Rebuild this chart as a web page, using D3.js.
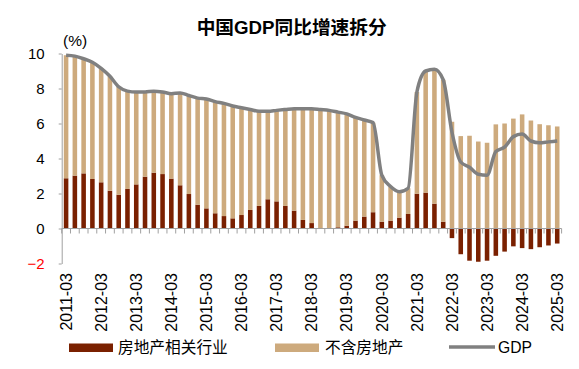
<!DOCTYPE html>
<html>
<head>
<meta charset="utf-8">
<script src="https://cdn.jsdelivr.net/npm/d3@7"></script>
<style>
  body { margin: 0; background: #fff; }
  text { font-family: "Liberation Sans", Arial, "Noto Sans CJK SC", sans-serif; }
</style>
</head>
<body>
<div id="chart"></div>
<script>
// quarters 2011-03 .. 2025-03
var quarters = [
  "2011-03", "2011-06", "2011-09", "2011-12", "2012-03", "2012-06", "2012-09", "2012-12",
  "2013-03", "2013-06", "2013-09", "2013-12", "2014-03", "2014-06", "2014-09", "2014-12",
  "2015-03", "2015-06", "2015-09", "2015-12", "2016-03", "2016-06", "2016-09", "2016-12",
  "2017-03", "2017-06", "2017-09", "2017-12", "2018-03", "2018-06", "2018-09", "2018-12",
  "2019-03", "2019-06", "2019-09", "2019-12", "2020-03", "2020-06", "2020-09", "2020-12",
  "2021-03", "2021-06", "2021-09", "2021-12", "2022-03", "2022-06", "2022-09", "2022-12",
  "2023-03", "2023-06", "2023-09", "2023-12", "2024-03", "2024-06", "2024-09", "2024-12",
  "2025-03"
];

// 房地产相关行业 (pp)
var realEstate = [
  2.87, 3.02, 3.15, 2.83, 2.64, 2.16, 1.93, 2.26,
  2.52, 2.96, 3.19, 3.11, 2.85, 2.47, 1.97, 1.36,
  1.15, 0.87, 0.71, 0.58, 0.77, 1.06, 1.29, 1.67,
  1.55, 1.29, 1.02, 0.49, 0.31, 0.0, 0.0, 0.07,
  0.16, 0.45, 0.68, 0.93, 0.39, 0.45, 0.62, 0.83,
  1.99, 2.05, 1.42, 0.39, -0.55, -1.47, -1.84, -1.9,
  -1.84, -1.56, -1.32, -1.02, -1.12, -1.18, -1.07, -0.97,
  -0.86
];

// 不含房地产 (pp)
var nonRealEstate = [
  7.03, 6.83, 6.55, 6.67, 6.51, 6.54, 6.17, 5.59,
  5.28, 4.84, 4.66, 4.69, 4.85, 5.28, 5.63, 6.09,
  6.25, 6.38, 6.44, 6.42, 6.13, 5.74, 5.41, 5.03,
  5.2, 5.51, 5.83, 6.36, 6.54, 6.8, 6.75, 6.58,
  6.39, 5.9, 5.52, 5.12, 2.66, 1.95, 1.48, 1.47,
  5.81, 6.95, 7.68, 8.11, 6.1, 5.28, 5.3, 4.97,
  4.9, 5.95, 6.0, 6.28, 6.52, 6.17, 5.96, 5.9,
  5.83
];

// GDP yoy (%)
var gdp = [
  9.9, 9.85, 9.7, 9.5, 9.15, 8.7, 8.1, 7.85,
  7.8, 7.8, 7.85, 7.8, 7.7, 7.75, 7.6, 7.45,
  7.4, 7.25, 7.15, 7.0, 6.9, 6.8, 6.7, 6.7,
  6.75, 6.8, 6.85, 6.85, 6.85, 6.8, 6.75, 6.65,
  6.55, 6.35, 6.2, 6.05, 3.05, 2.4, 2.1, 2.3,
  7.8, 9.0, 9.1, 8.5, 5.5, 3.8, 3.5, 3.1,
  3.05, 4.4, 4.65, 5.25, 5.4, 5.0, 4.9, 4.95,
  5.0
];

var tickLabels = ["2011-03", "2012-03", "2013-03", "2014-03", "2015-03", "2016-03", "2017-03",
  "2018-03", "2019-03", "2020-03", "2021-03", "2022-03", "2023-03", "2024-03", "2025-03"];
var yTicks = [-2, 0, 2, 4, 6, 8, 10];

var darkColor = "#7a2000";
var tanColor = "#cdaa7d";
var lineColor = "#808080";
var axisColor = "#a0a0a0";

function drawChart() {
  var width = 579, height = 369;

  var svg = d3.select("#chart")
    .append("svg")
    .attr("width", width)
    .attr("height", height);

  var x = d3.scaleBand()
    .domain(quarters)
    .range([61.7, 561.6]);

  var y = d3.scaleLinear()
    .domain([-2, 10])
    .range([263.5, 53.5]);

  var bw = x.bandwidth();
  var barW = bw * 0.52;

  // table for the stack
  var rows = quarters.map(function(q, i) {
    return { quarter: q, re: realEstate[i], nonre: nonRealEstate[i] };
  });

  var series = d3.stack()
    .keys(["re", "nonre"])
    .offset(d3.stackOffsetDiverging)(rows);

  var colors = { re: darkColor, nonre: tanColor };

  svg.append("g")
    .selectAll("g")
    .data(series)
    .enter()
    .append("g")
    .attr("fill", function(s) { return colors[s.key] })
    .selectAll("rect")
    .data(function(s) { return s })
    .enter()
    .append("rect")
    .attr("x", function(d) { return x(d.data.quarter) + (bw - barW) / 2 })
    .attr("width", barW)
    .attr("y", function(d) { return y(Math.max(d[0], d[1])) })
    .attr("height", function(d) { return Math.abs(y(d[0]) - y(d[1])) });

  // y axis
  var yAxis = svg.append("g")
    .attr("transform", "translate(61.7,0)")
    .call(d3.axisLeft(y).tickValues(yTicks).tickSize(3).tickSizeOuter(0).tickPadding(14));
  yAxis.select(".domain").attr("stroke", axisColor);
  yAxis.selectAll(".tick line").attr("stroke", axisColor);
  yAxis.selectAll(".tick text")
    .style("font-size", "15px")
    .attr("fill", function(d) { return d < 0 ? "#ff0000" : "#000" });

  // x axis along zero, ticks between bars
  var y0 = y(0);
  svg.append("line")
    .attr("x1", x.range()[0]).attr("x2", x.range()[1])
    .attr("y1", y0).attr("y2", y0)
    .attr("stroke", axisColor);

  var bounds = quarters.map(function(q) { return x(q) }).concat([x.range()[1]]);
  svg.append("g")
    .selectAll("line")
    .data(bounds)
    .enter()
    .append("line")
    .attr("x1", function(d) { return d }).attr("x2", function(d) { return d })
    .attr("y1", y0).attr("y2", y0 + 5)
    .attr("stroke", axisColor);

  // x labels, rotated
  svg.append("g")
    .selectAll("text")
    .data(tickLabels)
    .enter()
    .append("text")
    .attr("transform", function(d) {
      return "translate(" + (x(d) + bw / 2) + ",273) rotate(-90)";
    })
    .attr("text-anchor", "end")
    .attr("dy", "0.36em")
    .style("font-size", "16px")
    .text(function(d) { return d });

  // GDP line
  var line = d3.line()
    .x(function(d, i) { return x(quarters[i]) + bw / 2 })
    .y(function(d) { return y(d) })
    .curve(d3.curveMonotoneX);

  svg.append("path")
    .datum(gdp)
    .attr("d", line)
    .attr("fill", "none")
    .attr("stroke", lineColor)
    .attr("stroke-width", 3.5)
    .attr("stroke-linejoin", "round");

  // unit
  svg.append("text")
    .attr("x", 63).attr("y", 46)
    .style("font-size", "15.5px")
    .text("(%)");

  // title
  svg.append("text")
    .attr("x", 291.7).attr("y", 34)
    .attr("text-anchor", "middle")
    .style("font-size", "18.7px")
    .style("font-weight", "bold")
    .text("中国GDP同比增速拆分");

  // legend
  var lg = svg.append("g");
  lg.append("rect").attr("x", 69).attr("y", 343.5).attr("width", 44).attr("height", 8.5).attr("fill", darkColor);
  lg.append("text").attr("x", 118).attr("y", 348).attr("dy", "0.35em")
    .style("font-size", "15.7px").text("房地产相关行业");
  lg.append("rect").attr("x", 275).attr("y", 343.5).attr("width", 44).attr("height", 8.5).attr("fill", tanColor);
  lg.append("text").attr("x", 325).attr("y", 348).attr("dy", "0.35em")
    .style("font-size", "15.7px").text("不含房地产");
  lg.append("line").attr("x1", 449).attr("x2", 495).attr("y1", 347).attr("y2", 347)
    .attr("stroke", lineColor).attr("stroke-width", 3.5);
  lg.append("text").attr("x", 498).attr("y", 348).attr("dy", "0.35em")
    .style("font-size", "15.7px").text("GDP");
}

drawChart();
</script>
</body>
</html>
